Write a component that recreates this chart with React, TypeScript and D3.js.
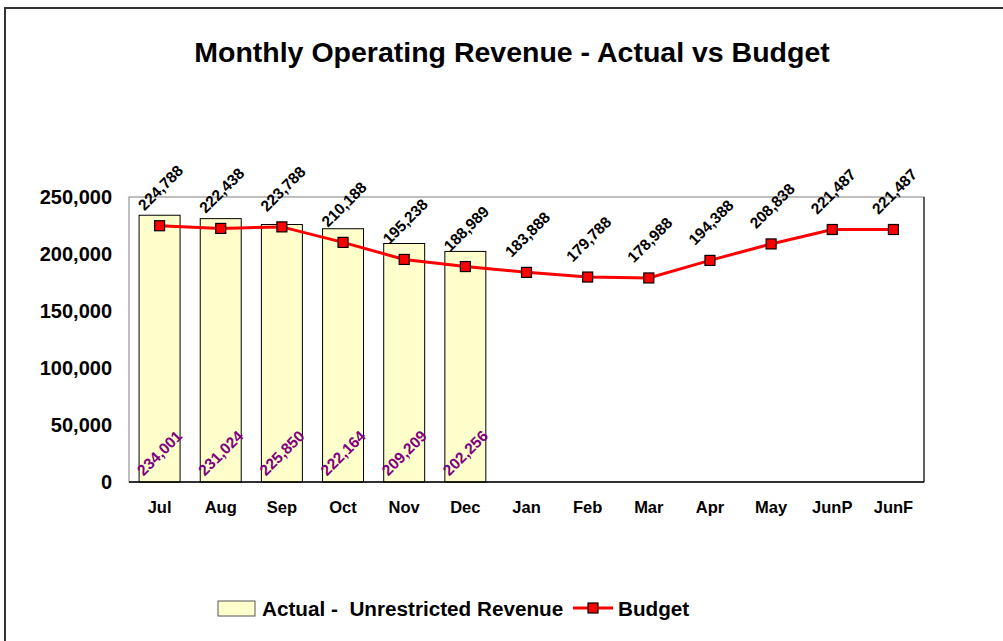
import React from 'react';
import * as d3 from 'd3';

const categories = ['Jul', 'Aug', 'Sep', 'Oct', 'Nov', 'Dec', 'Jan', 'Feb', 'Mar', 'Apr', 'May', 'JunP', 'JunF'];
const actual = [234001, 231024, 225850, 222164, 209209, 202256];
const budget = [224788, 222438, 223788, 210188, 195238, 188989, 183888, 179788, 178988, 194388, 208838, 221487, 221487];
const yTicks = [0, 50000, 100000, 150000, 200000, 250000];

const W = 1003;
const H = 641;
const plot = { left: 129, right: 924, top: 197, bottom: 482 };
const font = 'Liberation Sans, Arial, sans-serif';

const App = () => {
  const x = d3
    .scaleBand()
    .domain(categories)
    .range([plot.left, plot.right])
    .paddingInner(0.33)
    .paddingOuter(0.165);

  const y = d3.scaleLinear().domain([0, 250000]).range([plot.bottom, plot.top]);

  const fmt = d3.format(',');
  const cx = (c) => x(c) + x.bandwidth() / 2;

  const line = d3
    .line()
    .x((d, i) => cx(categories[i]))
    .y((d) => y(d));

  return (
    <svg
      width={W}
      height={H}
      style={{ position: 'absolute', left: 0, top: 0, background: '#fff' }}
      fontFamily={font}
      fontWeight="bold"
    >
      {/* outer chart frame */}
      <path d={`M5,${H + 5} V8 H${W + 5}`} fill="none" stroke="#333" strokeWidth={2} />

      <text x={512} y={62} textAnchor="middle" fontSize={28.5}>
        Monthly Operating Revenue - Actual vs Budget
      </text>

      {/* plot area */}
      <rect
        x={plot.left}
        y={plot.top}
        width={plot.right - plot.left}
        height={plot.bottom - plot.top}
        fill="#fff"
        stroke="#808080"
        strokeWidth={1}
      />
      <line x1={plot.right} x2={plot.right} y1={plot.top} y2={plot.bottom} stroke="#000" />

      {/* y axis labels */}
      {yTicks.map((t) => (
        <text key={t} x={112} y={y(t)} dy="0.36em" textAnchor="end" fontSize={20}>
          {fmt(t)}
        </text>
      ))}

      {/* bars */}
      {actual.map((v, i) => (
        <rect
          key={i}
          x={x(categories[i])}
          y={y(v)}
          width={x.bandwidth()}
          height={plot.bottom - y(v)}
          fill="#FFFFCC"
          stroke="#000"
          strokeWidth={1}
        />
      ))}

      <line x1={plot.left} x2={plot.right} y1={plot.bottom} y2={plot.bottom} stroke="#000" strokeWidth={1.5} />

      {/* category labels */}
      {categories.map((c) => (
        <text key={c} x={cx(c)} y={513} textAnchor="middle" fontSize={16.5}>
          {c}
        </text>
      ))}

      {/* actual labels */}
      {actual.map((v, i) => {
        const px = cx(categories[i]);
        const py = plot.bottom - 29;
        return (
          <text
            key={i}
            x={px}
            y={py}
            dy="0.35em"
            textAnchor="middle"
            fontSize={15.5}
            fill="#800080"
            transform={`rotate(-45,${px},${py})`}
          >
            {fmt(v)}
          </text>
        );
      })}

      {/* budget line */}
      <path d={line(budget)} fill="none" stroke="#FF0000" strokeWidth={3} />
      {budget.map((v, i) => (
        <rect
          key={i}
          x={cx(categories[i]) - 5}
          y={y(v) - 5}
          width={10}
          height={10}
          fill="#FF0000"
          stroke="#000"
          strokeWidth={1.2}
        />
      ))}

      {/* budget labels */}
      {budget.map((v, i) => {
        const px = cx(categories[i]) + 1;
        const py = y(v) - 38;
        return (
          <text
            key={i}
            x={px}
            y={py}
            dy="0.35em"
            textAnchor="middle"
            fontSize={15.5}
            fill="#000"
            transform={`rotate(-45,${px},${py})`}
          >
            {fmt(v)}
          </text>
        );
      })}

      {/* legend */}
      <rect x={218} y={601} width={37} height={15} fill="#FFFFCC" stroke="#555" strokeWidth={1} />
      <text x={262} y={616} fontSize={20.7}>
        Actual -{'\u00a0\u00a0'}Unrestricted Revenue
      </text>
      <line x1={573} x2={613} y1={608} y2={608} stroke="#FF0000" strokeWidth={3} />
      <rect x={588} y={603} width={10} height={10} fill="#FF0000" stroke="#000" strokeWidth={1.2} />
      <text x={618} y={616} fontSize={20.7}>
        Budget
      </text>
    </svg>
  );
};

export default App;
